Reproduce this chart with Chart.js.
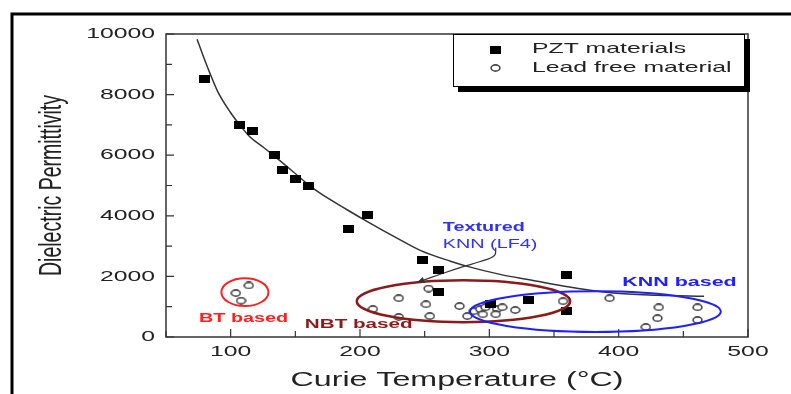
<!DOCTYPE html>
<html>
<head>
<meta charset="utf-8">
<script src="https://cdn.jsdelivr.net/npm/chart.js@4"></script>
<style>
  html, body { margin: 0; padding: 0; background: #fff; }
  canvas { display: block; }
</style>
</head>
<body>
<canvas id="myChart" width="791" height="394"></canvas>
<script>
// PZT ceramics: Curie temperature (°C) vs dielectric permittivity
const pztTemp = [80, 107, 117, 134, 140, 150, 160, 191, 206, 248, 261, 261, 301, 330, 360, 360];
const pztPerm = [8500, 7000, 6800, 6000, 5500, 5200, 5000, 3550, 4030, 2550, 2200, 1500, 1100, 1210, 2030, 850];

// lead free ceramics (BT, NBT and KNN families)
const leadFreeTemp = [114, 104, 108, 253, 230, 251, 210, 230, 254, 277, 283, 288, 293, 297, 306, 310, 320, 305, 295, 357, 393, 431, 461, 430, 461, 421];
const leadFreePerm = [1700, 1450, 1200, 1600, 1280, 1080, 920, 660, 690, 1020, 690, 850, 920, 980, 920, 980, 890, 750, 750, 1180, 1280, 980, 980, 620, 560, 330];

// trend line through the PZT data
const fitTemp = [74, 79, 84, 90, 100, 107, 115, 125, 135, 149, 160, 170, 190, 206, 230, 247, 270, 283, 310, 332, 357, 396, 430, 466];
const fitPerm = [9830, 9250, 8700, 8100, 7400, 7000, 6600, 6270, 5930, 5430, 5030, 4720, 4200, 3800, 3230, 2850, 2500, 2330, 2050, 1880, 1680, 1450, 1380, 1345];

// pointer from the "Textured KNN (LF4)" note
const ptrTemp = [305, 304, 293, 278, 262, 244];
const ptrPerm = [2950, 2690, 2490, 2300, 2070, 1800];

// axis ticks
const xTicks = [100, 200, 300, 400, 500];
const yTicks = [0, 2000, 4000, 6000, 8000, 10000];

// material groups: ellipse centre / half sizes in data units
const groups = [
  { name: 'BT based',  t: 111, eps: 1480, dt: 18.2, de: 460, color: '#ff2020', width: 2 },
  { name: 'NBT based', t: 280, eps: 1180, dt: 82.5, de: 690, color: '#8b1a1a', width: 2.5 },
  { name: 'KNN based', t: 382, eps: 840,  dt: 97,   de: 672, color: '#2020ff', width: 2 }
];
const notes = [
  { text: 'BT based',  t: 110, eps: 590,  color: '#ff2020', font: 'bold 12px "Liberation Sans", Arial', align: 'center' },
  { text: 'NBT based', t: 199, eps: 426,  color: '#8b1a1a', font: 'bold 12.5px "Liberation Sans", Arial', align: 'center' },
  { text: 'KNN based', t: 447, eps: 1800, color: '#2020ff', font: 'bold 13px "Liberation Sans", Arial', align: 'center' },
  { text: 'Textured',  t: 264, eps: 3607, color: '#3030ff', font: 'bold 12px "Liberation Sans", Arial', align: 'left' },
  { text: 'KNN (LF4)', t: 264, eps: 3049, color: '#3030ff', font: '12px "Liberation Sans", Arial', align: 'left' }
];

const SX = 1.65; // wide lettering
const FONT = '"Liberation Sans", Arial, sans-serif';

function wideText(ctx, text, x, y, font, color, align) {
  ctx.save();
  ctx.font = font;
  ctx.fillStyle = color;
  ctx.textAlign = align || 'center';
  ctx.textBaseline = 'middle';
  ctx.translate(x, y);
  ctx.scale(SX, 1);
  ctx.fillText(text, 0, 0);
  ctx.restore();
}

function marker(draw) {
  const c = document.createElement('canvas');
  c.width = 11; c.height = 8;
  draw(c.getContext('2d'));
  return c;
}
const squareMark = marker(g => { g.fillStyle = '#000'; g.fillRect(0, 0, 11, 8); });
const circleMark = marker(g => {
  g.strokeStyle = '#454545'; g.lineWidth = 1.6; g.fillStyle = '#fff';
  g.beginPath(); g.ellipse(5.5, 4, 4.4, 3.1, 0, 0, Math.PI * 2); g.fill(); g.stroke();
});

const pairs = (xs, ys) => xs.map((v, i) => ({ x: v, y: ys[i] }));

const decor = {
  id: 'decor',
  beforeDatasetsDraw(chart) {
    const { ctx, chartArea: a, scales: { x, y } } = chart;
    ctx.save();
    // outer frame
    ctx.strokeStyle = '#000';
    ctx.lineWidth = 3;
    ctx.beginPath();
    ctx.moveTo(12, 400); ctx.lineTo(12, 14); ctx.lineTo(800, 14);
    ctx.stroke();
    // plot box
    ctx.strokeStyle = '#333';
    ctx.lineWidth = 1.5;
    ctx.strokeRect(a.left, a.top, a.right - a.left, a.bottom - a.top);
    // inward ticks
    ctx.lineWidth = 1.2;
    ctx.beginPath();
    x.ticks.forEach(t => {
      const px = x.getPixelForValue(t.value);
      const len = t.value % 100 === 0 ? 8 : 6;
      ctx.moveTo(px, a.bottom); ctx.lineTo(px, a.bottom - len);
    });
    y.ticks.forEach(t => {
      const py = y.getPixelForValue(t.value);
      const len = t.value % 2000 === 0 ? 8 : 6;
      ctx.moveTo(a.left, py); ctx.lineTo(a.left + len, py);
    });
    ctx.stroke();
    ctx.restore();

    xTicks.forEach(v => wideText(ctx, String(v), x.getPixelForValue(v), a.bottom + 15, '15px ' + FONT, '#222'));
    yTicks.forEach(v => wideText(ctx, String(v), a.left - 11, y.getPixelForValue(v), '15px ' + FONT, '#222', 'right'));

    wideText(ctx, 'Curie Temperature (°C)', (a.left + a.right) / 2, 381, '19.5px ' + FONT, '#222');
    ctx.save();
    ctx.font = '19.5px ' + FONT;
    ctx.fillStyle = '#222';
    ctx.textAlign = 'center';
    ctx.textBaseline = 'middle';
    ctx.translate(52, (a.top + a.bottom) / 2);
    ctx.scale(SX, 1);
    ctx.rotate(-Math.PI / 2);
    ctx.fillText('Dielectric Permittivity', 0, 0);
    ctx.restore();
  },
  afterDatasetsDraw(chart) {
    const { ctx, chartArea: a, scales: { x, y } } = chart;
    ctx.save();
    // group outlines
    groups.forEach(g => {
      const cx = x.getPixelForValue(g.t), cy = y.getPixelForValue(g.eps);
      const rx = Math.abs(x.getPixelForValue(g.t + g.dt) - cx);
      const ry = Math.abs(y.getPixelForValue(g.eps + g.de) - cy);
      ctx.strokeStyle = g.color;
      ctx.lineWidth = g.width;
      ctx.beginPath();
      ctx.ellipse(cx, cy, rx, ry, 0, 0, Math.PI * 2);
      ctx.stroke();
    });
    // arrow head on the pointer
    const n = ptrTemp.length;
    const ex = x.getPixelForValue(ptrTemp[n - 1]), ey = y.getPixelForValue(ptrPerm[n - 1]);
    const bx = x.getPixelForValue(ptrTemp[n - 2]), by = y.getPixelForValue(ptrPerm[n - 2]);
    const ang = Math.atan2(ey - by, ex - bx);
    ctx.fillStyle = '#333';
    ctx.beginPath();
    ctx.moveTo(ex, ey);
    ctx.lineTo(ex - 8 * Math.cos(ang - 0.4), ey - 8 * Math.sin(ang - 0.4));
    ctx.lineTo(ex - 8 * Math.cos(ang + 0.4), ey - 8 * Math.sin(ang + 0.4));
    ctx.closePath();
    ctx.fill();
    ctx.restore();

    notes.forEach(n => wideText(ctx, n.text, x.getPixelForValue(n.t), y.getPixelForValue(n.eps), n.font, n.color, n.align));

    // legend box with drop shadow
    const lx = a.right - 295, ly = a.top, lw = 292, lh = 53;
    ctx.save();
    ctx.fillStyle = '#000';
    ctx.fillRect(lx + 5, ly + 5, lw, lh);
    ctx.fillStyle = '#fff';
    ctx.fillRect(lx, ly, lw, lh);
    ctx.strokeStyle = '#000';
    ctx.lineWidth = 1;
    ctx.strokeRect(lx + 0.5, ly + 0.5, lw - 1, lh - 1);
    ctx.drawImage(squareMark, lx + 37, ly + 12);
    ctx.drawImage(circleMark, lx + 37, ly + 30);
    ctx.restore();
    const ds = chart.data.datasets;
    wideText(ctx, ds[0].label, lx + 79, ly + 15, '15px ' + FONT, '#222', 'left');
    wideText(ctx, ds[1].label, lx + 79, ly + 34, '15px ' + FONT, '#222', 'left');
  }
};

new Chart(document.getElementById('myChart'), {
  type: 'scatter',
  data: {
    datasets: [
      {
        label: 'PZT materials',
        data: pairs(pztTemp, pztPerm),
        pointStyle: squareMark,
        pointRadius: 5
      },
      {
        label: 'Lead free material',
        data: pairs(leadFreeTemp, leadFreePerm),
        pointStyle: circleMark,
        pointRadius: 4
      },
      {
        label: 'fit',
        data: pairs(fitTemp, fitPerm),
        showLine: true,
        borderColor: '#333',
        borderWidth: 1.5,
        pointRadius: 0,
        cubicInterpolationMode: 'monotone'
      },
      {
        label: 'pointer',
        data: pairs(ptrTemp, ptrPerm),
        showLine: true,
        borderColor: '#333',
        borderWidth: 1.2,
        pointRadius: 0,
        tension: 0.4
      }
    ]
  },
  options: {
    responsive: false,
    devicePixelRatio: 1,
    animation: false,
    layout: { padding: { left: 166, top: 34, right: 43, bottom: 57 } },
    scales: {
      x: {
        type: 'linear', min: 50, max: 500,
        ticks: { stepSize: 50, display: false },
        grid: { display: false, drawTicks: false },
        border: { display: false },
        afterFit(s) { s.height = 0; }
      },
      y: {
        type: 'linear', min: 0, max: 10000,
        ticks: { stepSize: 1000, display: false },
        grid: { display: false, drawTicks: false },
        border: { display: false },
        afterFit(s) { s.width = 0; }
      }
    },
    plugins: {
      legend: { display: false },
      tooltip: { enabled: false }
    }
  },
  plugins: [decor]
});
</script>
</body>
</html>
